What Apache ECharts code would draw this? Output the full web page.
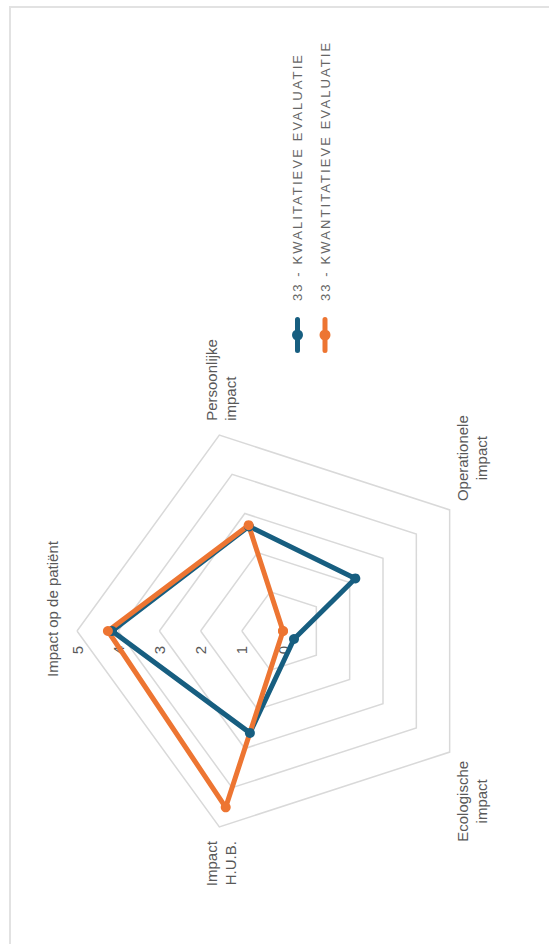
<!DOCTYPE html>
<html><head><meta charset="utf-8">
<script src="https://cdn.jsdelivr.net/npm/echarts@6/dist/echarts.min.js"></script>
<style>
html,body{margin:0;padding:0;width:549px;height:944px;overflow:hidden;background:#fff;}
#rot{position:absolute;left:0;top:0;width:944px;height:549px;transform-origin:0 0;transform:translate(0,944px) rotate(-90deg);}
#card{position:absolute;left:-20px;top:9px;width:958px;height:620px;border:2px solid #e2e2e2;box-sizing:border-box;}
#chart{position:absolute;left:0;top:0;width:944px;height:549px;}
</style></head><body>
<div id="rot"><div id="card"></div><div id="chart"></div></div>
<script>
// Categories listed clockwise starting at the top axis
const categories = ['Impact op de patiënt', 'Persoonlijke\nimpact', 'Operationele\nimpact', 'Ecologische\nimpact', 'Impact\nH.U.B.'];
const tickLabels = ['0', '1', '2', '3', '4', '5'];
const seriesNames = ['33 - KWALITATIEVE EVALUATIE', '33 - KWANTITATIEVE EVALUATIE'];
const kwalitatief = [4.15, 2.67, 2.17, 0.33, 2.6];
const kwantitatief = [4.25, 2.7, 0, 0, 4.5];

const BLUE = '#175e80', ORANGE = '#ed7532', FONT = 'Liberation Sans, Arial, sans-serif';
// ECharts places indicators counter-clockwise; reorder to draw them clockwise
const order = [0, 4, 3, 2, 1];
const reorder = arr => order.map(i => arr[i]);

const indicator = order.map((i, k) => {
  const o = { name: categories[i], min: 0, max: 5 };
  if (k === 0) o.axisLabel = { show: true };
  return o;
});

const base = { fontSize: 15, lineHeight: 19, color: '#595959', fontFamily: FONT };
const st = (align, pad) => Object.assign({}, base, { align: align, padding: pad });
const rich = {
  a0: st('center', [0, 0, 0, 44]),
  a1: st('left', [12, 0, 0, 0]), b1: st('left', [12, 0, 0, 0]),
  a2: st('center', [20, 0, 0, 0]), b2: st('center', [20, 0, 0, 0]),
  a3: st('center', [20, 0, 0, 0]), b3: st('center', [20, 0, 0, 0]),
  a4: st('right', [12, 0, 0, 0]), b4: st('right', [12, 0, 0, 0])
};

const iconPath = 'path://M2.5,3 L33.5,3 A2.5,2.5 0 0 1 33.5,8 L2.5,8 A2.5,2.5 0 0 1 2.5,3 Z M18,0 A5.5,5.5 0 1 1 18,11 A5.5,5.5 0 1 1 18,0 Z';

const chart = echarts.init(document.getElementById('chart'), null, { renderer: 'svg' });
chart.setOption({
  animation: false,
  color: [BLUE, ORANGE],
  legend: {
    orient: 'vertical', left: 586, top: 286, itemWidth: 36, itemHeight: 11, itemGap: 14.5,
    icon: iconPath,
    textStyle: { fontSize: 13, color: '#666', fontFamily: FONT, padding: [0, 0, 0, 11] },
    data: seriesNames
  },
  radar: {
    center: [313, 283], radius: 206, startAngle: 90, splitNumber: 5, shape: 'polygon',
    nameGap: 15,
    axisName: {
      formatter: function (name) {
        const i = categories.indexOf(name);
        return name.split('\n').map((l, j) => '{' + (j === 0 ? 'a' : 'b') + i + '|' + l + '}').join('\n');
      },
      rich: rich
    },
    axisLine: { show: false }, axisTick: { show: false },
    axisLabel: { show: false, margin: 15, fontSize: 15, color: '#595959', fontFamily: FONT, formatter: v => tickLabels[v] },
    splitLine: { lineStyle: { color: '#d9d9d9', width: 1.5 } },
    splitArea: { show: false },
    indicator: indicator
  },
  series: [{
    type: 'radar', symbol: 'circle', symbolSize: 10,
    data: [
      { name: seriesNames[0], value: reorder(kwalitatief), itemStyle: { color: BLUE }, lineStyle: { color: BLUE, width: 5 } },
      { name: seriesNames[1], value: reorder(kwantitatief), itemStyle: { color: ORANGE }, lineStyle: { color: ORANGE, width: 5 } }
    ]
  }]
});
function spaceLegend() {
  document.querySelectorAll('#chart text').forEach(t => {
    if (seriesNames.indexOf(t.textContent) >= 0) {
      t.setAttribute('letter-spacing', '2.1');
      t.style.letterSpacing = '2.1px';
    }
  });
}
chart.on('finished', spaceLegend);
spaceLegend();
</script>
</body></html>
